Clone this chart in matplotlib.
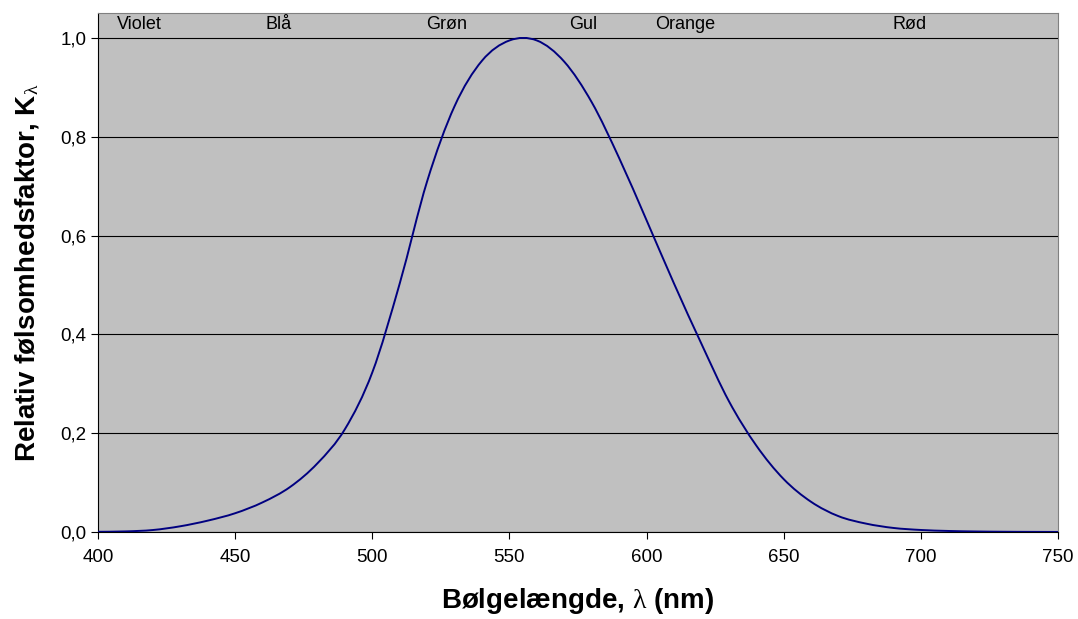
import matplotlib
matplotlib.use("Agg")
import matplotlib.pyplot as plt
from matplotlib.path import Path
from matplotlib.patches import PathPatch
from matplotlib.ticker import FuncFormatter

# CIE photopic sensitivity, read at 10 nm steps
wavelength = [400, 410, 420, 430, 440, 450, 460, 470, 480, 490, 500, 510, 520,
              530, 540, 550, 560, 570, 580, 590, 600, 610, 620, 630, 640,
              650, 660, 670, 680, 690, 700, 710, 720, 730, 740, 750]
sensitivity = [0.0004, 0.0012, 0.004, 0.0116, 0.023, 0.038, 0.06, 0.091, 0.139,
               0.208, 0.323, 0.503, 0.71, 0.862, 0.954, 0.995, 0.995, 0.952,
               0.870, 0.757, 0.631, 0.503, 0.381, 0.265, 0.175, 0.107, 0.061,
               0.032, 0.017, 0.0082, 0.0041, 0.0021, 0.00105, 0.00052, 0.00025,
               0.00012]

color_names = ["Violet", "Blå", "Grøn", "Gul", "Orange", "Rød"]
color_pos = [415, 466, 527, 577, 614, 696]

plt.rcParams['font.family'] = ['Liberation Sans', 'DejaVu Sans']
plt.rcParams['mathtext.fontset'] = 'custom'
plt.rcParams['mathtext.rm'] = 'Liberation Serif'
plt.rcParams['mathtext.it'] = 'Liberation Serif'
plt.rcParams['mathtext.bf'] = 'Liberation Serif'


def smooth_path(xs, ys):
    # Excel style smoothed line: cubic bezier through every point
    pts = list(zip(xs, ys))
    verts = [pts[0]]
    codes = [Path.MOVETO]
    n = len(pts)
    for i in range(n - 1):
        p0 = pts[max(i - 1, 0)]
        p1 = pts[i]
        p2 = pts[i + 1]
        p3 = pts[min(i + 2, n - 1)]
        c1 = (p1[0] + (p2[0] - p0[0]) / 6, p1[1] + (p2[1] - p0[1]) / 6)
        c2 = (p2[0] - (p3[0] - p1[0]) / 6, p2[1] - (p3[1] - p1[1]) / 6)
        verts += [c1, c2, p2]
        codes += [Path.CURVE4] * 3
    return Path(verts, codes)


fig = plt.figure(figsize=(10.78, 6.19), dpi=100)
ax = fig.add_axes([98 / 1078, 1 - 532 / 619, 960 / 1078, 519 / 619])
ax.set_facecolor("#c0c0c0")

ax.add_patch(PathPatch(smooth_path(wavelength, sensitivity), facecolor="none",
                       edgecolor="#000080", lw=1.4, zorder=3))

ax.set_xlim(400, 750)
ax.set_ylim(0, 519 / 494)
ax.set_xticks(range(400, 751, 50))
ax.set_yticks([0, 0.2, 0.4, 0.6, 0.8, 1.0])
ax.yaxis.set_major_formatter(FuncFormatter(lambda v, p: f"{v:.1f}".replace(".", ",")))
ax.tick_params(labelsize=13.5, direction="out", length=5, color="#000000")
ax.tick_params(axis="x", pad=7)
ax.grid(axis="y", color="black", lw=0.8)
ax.set_axisbelow(False)

for side in ["top", "right"]:
    ax.spines[side].set_color("#808080")
for side in ["left", "bottom"]:
    ax.spines[side].set_color("#000000")

for name, pos in zip(color_names, color_pos):
    ax.text(pos, 1.028, name, ha="center", va="center", fontsize=13)

ax.set_xlabel(r"Bølgelængde, $\lambda$ (nm)", fontsize=20, fontweight="bold", labelpad=15)
ax.set_ylabel(r"Relativ følsomhedsfaktor, K$_\lambda$", fontsize=20, fontweight="bold", labelpad=14)

fig.savefig("out.png", dpi=100)
